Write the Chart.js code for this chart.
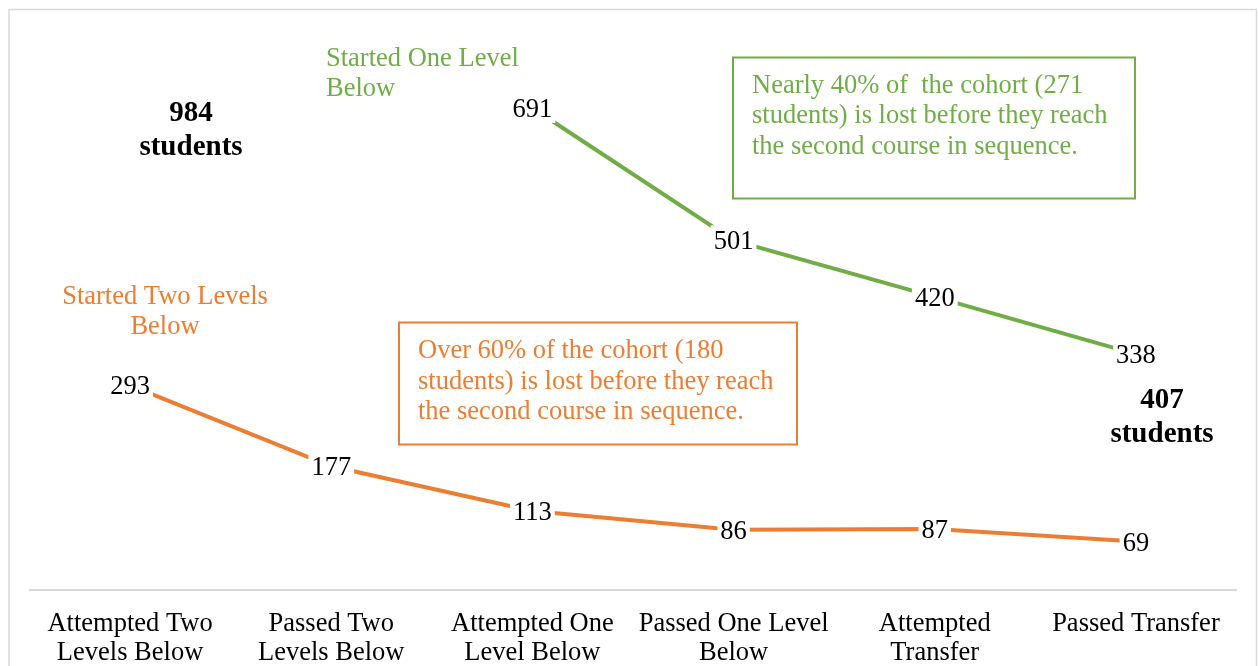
<!DOCTYPE html>
<html>
<head>
<meta charset="utf-8">
<script src="https://cdn.jsdelivr.net/npm/chart.js@4"></script>
<style>
  html, body { margin: 0; padding: 0; background: #fff; overflow: hidden; }
  #wrap { position: absolute; left: 0; top: 0; width: 1258px; height: 688px; }
</style>
</head>
<body>
<div id="wrap"><canvas id="chart"></canvas></div>
<script>
// Categories along the sequence
const steps = [
    ['Attempted Two', 'Levels Below'],
    ['Passed Two', 'Levels Below'],
    ['Attempted One', 'Level Below'],
    ['Passed One Level', 'Below'],
    ['Attempted', 'Transfer'],
    ['Passed Transfer']
];

// Students still in the sequence
const twoBelow = [293, 177, 113, 86, 87, 69];
const oneBelow = [null, null, 691, 501, 420, 338];

const colors = {
    orange: '#ED7D31',
    green: '#70AD47',
    text: '#000000',
    axis: '#d9d9d9'
};

const serif = '"Liberation Serif", "Times New Roman", serif';

// Value labels sit on the points with a white box that hides the line behind them
const valueLabels = {
    id: 'valueLabels',
    afterDatasetsDraw(chart) {
        const ctx = chart.ctx;
        ctx.save();
        ctx.font = '26.5px ' + serif;
        ctx.textAlign = 'center';
        ctx.textBaseline = 'middle';
        chart.data.datasets.forEach((ds, i) => {
            const meta = chart.getDatasetMeta(i);
            meta.data.forEach((pt, j) => {
                const v = ds.data[j];
                if (v === null) return;
                const txt = String(v);
                const w = ctx.measureText(txt).width + 6;
                ctx.fillStyle = '#fff';
                ctx.fillRect(pt.x - w / 2, pt.y - 15, w, 30);
                ctx.fillStyle = colors.text;
                ctx.fillText(txt, pt.x, pt.y + 2);
            });
        });
        ctx.restore();
    }
};

// Callouts, series names and the outer frame
const callouts = {
    id: 'callouts',
    afterDraw(chart) {
        const ctx = chart.ctx;
        ctx.save();

        // frame
        ctx.strokeStyle = colors.axis;
        ctx.lineWidth = 1.5;
        ctx.strokeRect(9, 9.5, 1247.5, 700);

        ctx.textBaseline = 'middle';

        // totals
        ctx.fillStyle = colors.text;
        ctx.font = 'bold 29px ' + serif;
        ctx.textAlign = 'center';
        ctx.fillText('984', 191, 114);
        ctx.fillText('students', 191, 148);
        ctx.fillText('407', 1162, 401);
        ctx.fillText('students', 1162, 435);

        // series names
        ctx.font = '26.5px ' + serif;
        ctx.fillStyle = colors.green;
        ctx.textAlign = 'left';
        ctx.fillText('Started One Level', 326, 59);
        ctx.fillText('Below', 326, 89);

        ctx.fillStyle = colors.orange;
        ctx.textAlign = 'center';
        ctx.fillText('Started Two Levels', 165, 297);
        ctx.fillText('Below', 165, 327);

        // green callout box
        ctx.lineWidth = 2;
        ctx.strokeStyle = colors.green;
        ctx.strokeRect(733, 57.5, 402, 141);
        ctx.fillStyle = colors.green;
        ctx.textAlign = 'left';
        ctx.fillText('Nearly 40% of  the cohort (271', 752, 86);
        ctx.fillText('students) is lost before they reach', 752, 116);
        ctx.fillText('the second course in sequence.', 752, 147);

        // orange callout box
        ctx.strokeStyle = colors.orange;
        ctx.strokeRect(399, 322.5, 398, 122);
        ctx.fillStyle = colors.orange;
        ctx.fillText('Over 60% of the cohort (180', 418, 351);
        ctx.fillText('students) is lost before they reach', 418, 382);
        ctx.fillText('the second course in sequence.', 418, 412);

        ctx.restore();
    }
};

new Chart(document.getElementById('chart'), {
    type: 'line',
    data: {
        labels: steps,
        datasets: [
            {
                label: 'Started Two Levels Below',
                data: twoBelow,
                borderColor: colors.orange,
                backgroundColor: colors.orange,
                borderWidth: 4,
                pointRadius: 0,
                tension: 0
            },
            {
                label: 'Started One Level Below',
                data: oneBelow,
                borderColor: colors.green,
                backgroundColor: colors.green,
                borderWidth: 4,
                pointRadius: 0,
                tension: 0
            }
        ]
    },
    options: {
        responsive: true,
        maintainAspectRatio: false,
        animation: false,
        layout: { padding: { left: 29.5, right: 21.5, top: 32, bottom: 0 } },
        plugins: {
            legend: { display: false },
            tooltip: { enabled: false }
        },
        scales: {
            x: {
                offset: true,
                grid: { display: false, drawTicks: false },
                border: { display: true, color: colors.axis, width: 2 },
                ticks: {
                    color: colors.text,
                    font: { family: serif, size: 26.5, lineHeight: 1.1 },
                    padding: 20,
                    maxRotation: 0,
                    autoSkip: false
                }
            },
            y: {
                display: false,
                min: 0,
                max: 800
            }
        }
    },
    plugins: [valueLabels, callouts]
});
</script>
</body>
</html>
